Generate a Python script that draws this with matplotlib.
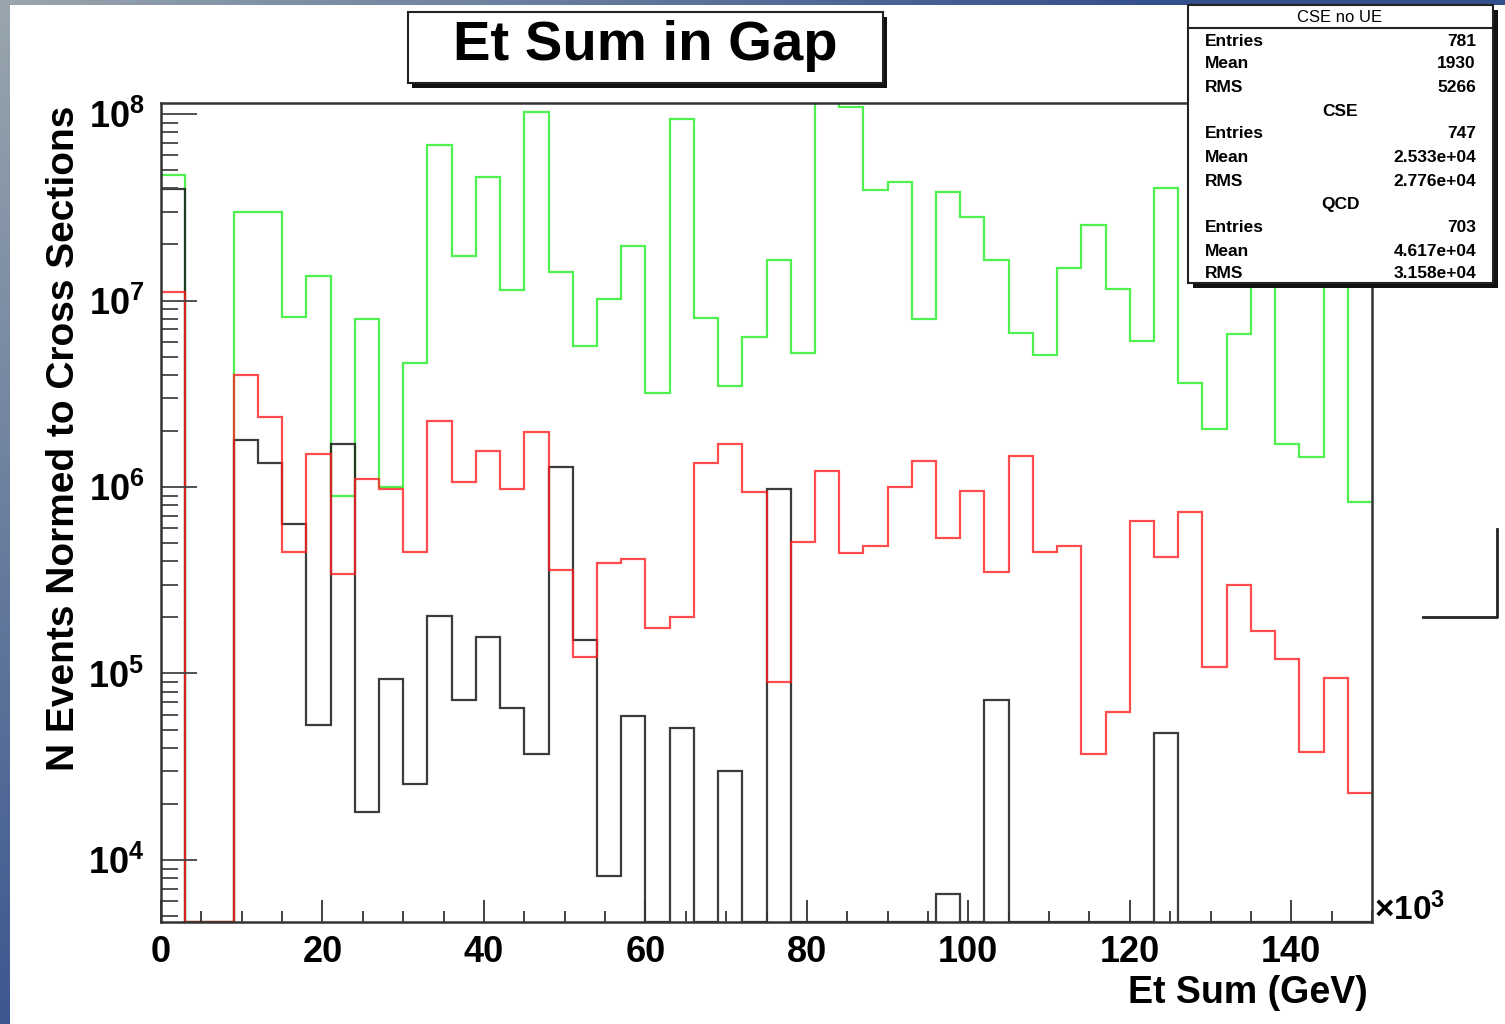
import numpy as np
import matplotlib
matplotlib.use("Agg")
import matplotlib.pyplot as plt
from matplotlib.patches import Rectangle
from matplotlib.ticker import FixedLocator, FuncFormatter, LogLocator, MultipleLocator, NullFormatter

plt.rcParams['font.family'] = ['Liberation Sans', 'DejaVu Sans']
plt.rcParams['font.weight'] = 'bold'
plt.rcParams['mathtext.fontset'] = 'custom'
plt.rcParams['mathtext.rm'] = 'Liberation Sans:bold'
plt.rcParams['mathtext.bf'] = 'Liberation Sans:bold'
plt.rcParams['mathtext.it'] = 'Liberation Sans:bold:italic'

# ---------------- data ----------------
bin_edges = np.arange(0, 150001, 3000)  # Et sum (shown x10^3)

cse_no_ue = [4.7e7, 0, 0, 3.0e7, 3.0e7, 8.2e6, 1.36e7, 9.0e5, 8.0e6, 1.0e6,
             4.6e6, 6.8e7, 1.73e7, 4.6e7, 1.14e7, 1.03e8, 1.43e7, 5.7e6, 1.02e7, 1.96e7,
             3.2e6, 9.4e7, 8.1e6, 3.5e6, 6.4e6, 1.65e7, 5.2e6, 1.2e8, 1.09e8, 3.9e7,
             4.3e7, 8.0e6, 3.8e7, 2.8e7, 1.65e7, 6.7e6, 5.1e6, 1.49e7, 2.54e7, 1.15e7,
             6.1e6, 4.0e7, 3.6e6, 2.05e6, 6.6e6, 2.5e7, 1.7e6, 1.45e6, 3.0e7, 8.3e5]

cse = [1.11e7, 0, 0, 4.0e6, 2.37e6, 4.5e5, 1.5e6, 3.4e5, 1.11e6, 9.8e5,
       4.5e5, 2.26e6, 1.06e6, 1.56e6, 9.8e5, 1.98e6, 3.6e5, 1.22e5, 3.9e5, 4.1e5,
       1.75e5, 2.0e5, 1.35e6, 1.71e6, 9.4e5, 9.0e4, 5.1e5, 1.22e6, 4.4e5, 4.8e5,
       1.0e6, 1.38e6, 5.3e5, 9.5e5, 3.5e5, 1.47e6, 4.5e5, 4.8e5, 3.7e4, 6.2e4,
       6.6e5, 4.2e5, 7.3e5, 1.09e5, 3.0e5, 1.68e5, 1.19e5, 3.8e4, 9.5e4, 2.3e4]

qcd = [3.95e7, 0, 0, 1.79e6, 1.35e6, 6.3e5, 5.3e4, 1.7e6, 1.8e4, 9.3e4,
       2.56e4, 2.03e5, 7.2e4, 1.56e5, 6.5e4, 3.7e4, 1.28e6, 1.52e5, 8.2e3, 5.9e4,
       0, 5.1e4, 0, 3.0e4, 0, 9.7e5, 0, 0, 0, 0,
       0, 0, 6.6e3, 0, 7.2e4, 0, 0, 0, 0, 0,
       0, 4.8e4, 0, 0, 0, 0, 0, 0, 0, 0]

stats_header = "CSE no UE"
stats_rows = [
    ("Entries", "781"), ("Mean", "1930"), ("RMS", "5266"),
    ("CSE", None),
    ("Entries", "747"), ("Mean", "2.533e+04"), ("RMS", "2.776e+04"),
    ("QCD", None),
    ("Entries", "703"), ("Mean", "4.617e+04"), ("RMS", "3.158e+04"),
]

title = "Et Sum in Gap"
xlabel = "Et Sum (GeV)"
ylabel = "N Events Normed to Cross Sections"
ymin, ymax = 4.65e3, 1.15e8

# ---------------- figure ----------------
W, H = 1505, 1024
fig = plt.figure(figsize=(W / 100, H / 100), dpi=100)

# background (slide gradient)
bg = fig.add_axes([0, 0, 1, 1], zorder=-5)
bg.axis('off')
xx, yy = np.meshgrid(np.linspace(0, 1, 200), np.linspace(0, 1, 200))
t = np.clip(xx * 1.3 + yy * 0.9, 0, 1)
c0 = np.array([0.60, 0.65, 0.68])
c1 = np.array([0.20, 0.31, 0.55])
img = c0[None, None, :] * (1 - t[..., None]) + c1[None, None, :] * t[..., None]
bg.imshow(img, extent=(0, W, H, 0), aspect='auto')
bg.set_xlim(0, W)
bg.set_ylim(H, 0)
bg.add_patch(Rectangle((10, 5), W - 10, H - 5, facecolor='white', edgecolor='none'))

# main axes
L, R, T, B = 161, 1372, 102.7, 922
ax = fig.add_axes([L / W, 1 - B / H, (R - L) / W, (B - T) / H], zorder=1)
ax.set_facecolor('white')
ax.set_yscale('log')
ax.set_xlim(0, 150000)
ax.set_ylim(ymin, ymax)

def floor(v):
    v = np.asarray(v, dtype=float)
    return np.where(v > 0, v, ymin)

ax.stairs(floor(cse_no_ue), bin_edges, baseline=None, color='#22ee22', lw=1.6, alpha=0.8)
ax.stairs(floor(qcd), bin_edges, baseline=None, color='#1a1a1a', lw=1.6, alpha=0.85)
ax.stairs(floor(cse), bin_edges, baseline=None, color='#ff2020', lw=1.6, alpha=0.8)

for s in ax.spines.values():
    s.set_color('#333333')
    s.set_linewidth(1.8)

ax.xaxis.set_major_locator(MultipleLocator(20000))
ax.xaxis.set_minor_locator(MultipleLocator(5000))
ax.xaxis.set_major_formatter(FuncFormatter(lambda v, p: f"{v/1000:.0f}"))
ax.yaxis.set_major_locator(FixedLocator([1e4, 1e5, 1e6, 1e7, 1e8]))
ax.yaxis.set_minor_locator(LogLocator(base=10, subs=np.arange(2, 10), numticks=20))
ax.yaxis.set_minor_formatter(NullFormatter())
ax.yaxis.set_major_formatter(FuncFormatter(lambda v, p: r'$\mathbf{10^{%d}}$' % int(round(np.log10(v)))))

ax.tick_params(axis='x', which='major', direction='in', length=16, width=1.3, color='#333333',
               labelsize=26, pad=9)
ax.tick_params(axis='x', which='minor', direction='in', length=8, width=1.3, color='#333333')
ax.tick_params(axis='y', which='major', direction='in', length=26, width=1.3, color='#444444',
               labelsize=26, pad=12)
ax.tick_params(axis='y', which='minor', direction='in', length=12, width=1.3, color='#444444')
ax.tick_params(top=False, right=False, which='both')

# overlay in pixel coordinates
ov = fig.add_axes([0, 0, 1, 1], zorder=10)
ov.set_xlim(0, W)
ov.set_ylim(H, 0)
ov.axis('off')
ov.patch.set_alpha(0)

# axis labels
ov.text(64, 438, ylabel, rotation=90, ha='center', va='center', fontsize=28, fontweight='bold')
ov.text(1368, 993, xlabel, ha='right', va='center', fontsize=27, fontweight='bold')
ov.text(1374, 910, "×10$^{3}$", ha='left', va='center', fontsize=24, fontweight='bold')

# title box
ov.add_patch(Rectangle((412, 17), 475, 71, facecolor='#111111', edgecolor='none'))
ov.add_patch(Rectangle((408, 12), 475, 71, facecolor='white', edgecolor='#222222', lw=1.5))
ov.text(645, 46, title, ha='center', va='center', fontsize=40.5, fontweight='bold')

# stats box
bx0, bx1, by0, by1 = 1188, 1493, 5, 283
ov.add_patch(Rectangle((bx0 + 5, by0 + 5), bx1 - bx0, by1 - by0, facecolor='#111111', edgecolor='none'))
ov.add_patch(Rectangle((bx0, by0), bx1 - bx0, by1 - by0, facecolor='white', edgecolor='#222222', lw=1.5))
ov.plot([bx0, bx1], [28, 28], color='#222222', lw=1.5)
ov.text(1340, 17, stats_header, ha='center', va='center', fontsize=12, fontweight='normal')
row_y = [42, 64, 88, 111, 134, 157, 181, 204, 228, 251, 273]
for (lab, val), yy_ in zip(stats_rows, row_y):
    if val is None:
        ov.text(1340, yy_, lab, ha='center', va='center', fontsize=12.5, fontweight='bold')
    else:
        ov.text(1205, yy_, lab, ha='left', va='center', fontsize=12.5, fontweight='bold')
        ov.text(1476, yy_, val, ha='right', va='center', fontsize=12.5, fontweight='bold')

# leftover legend corner at right edge
ov.plot([1423, 1497, 1497], [617, 617, 529], color='#222222', lw=2)

fig.savefig("out.png", dpi=100)
